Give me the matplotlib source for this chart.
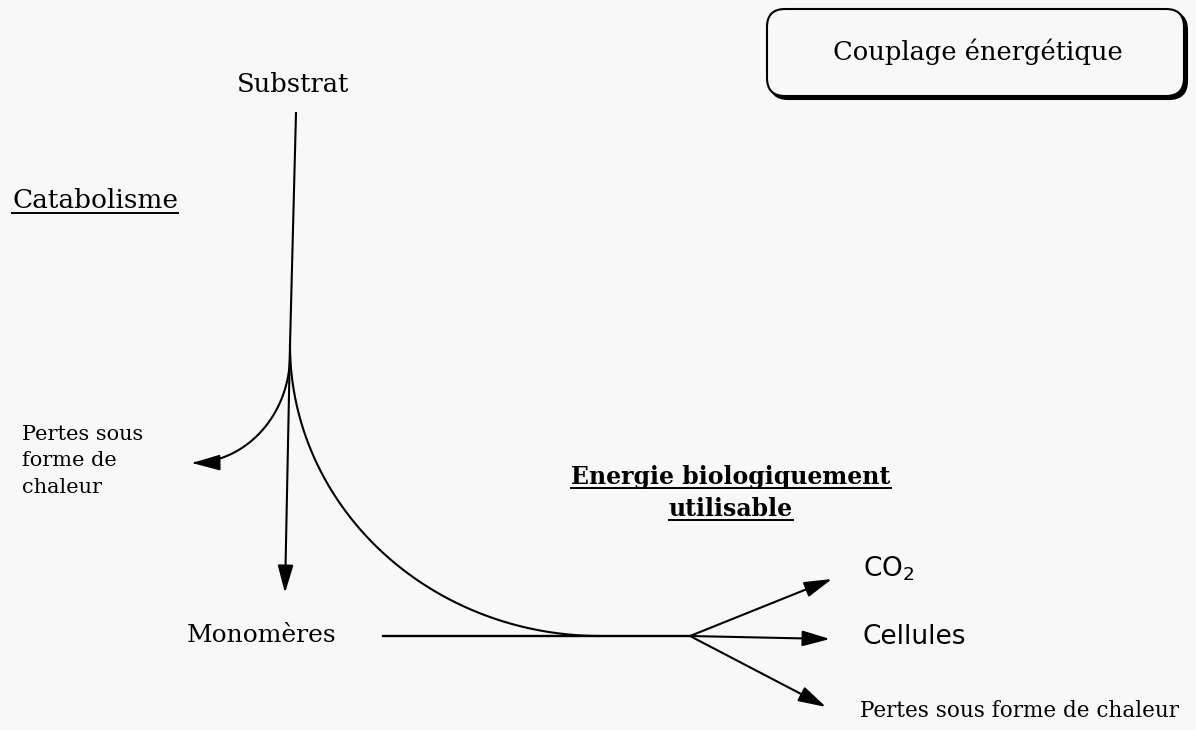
import numpy as np
import matplotlib
matplotlib.use("Agg")
import matplotlib.pyplot as plt
from matplotlib.patches import FancyArrowPatch, FancyBboxPatch
from matplotlib.path import Path

# positions des noeuds du schema (pixels, y vers le bas)
substrat_pos = (293, 85)
branch_top = (296, 113)
split_pt = (290, 345)
monomer_tip = (285, 593)
loss_tip = (192, 463)
big_curve_end = (600, 636)
line_start = (383, 636)
fork_pt = (690, 636)
fork_tips = [(832, 579), (830, 639), (826, 707)]

labels_right = ["CO$_2$", "Cellules", "Pertes sous forme de chaleur"]
labels_right_pos = [(863, 569), (863, 637), (860, 711)]
labels_right_size = [19, 19, 15.5]

titre = "Couplage énergétique"
box_xy = (767, 9, 417, 87)

BG = "#f8f8f8"
plt.rcParams["mathtext.fontset"] = "dejavusans"

fig = plt.figure(figsize=(11.96, 7.30), dpi=100, facecolor=BG)
ax = fig.add_axes([0, 0, 1, 1])
ax.set_xlim(0, 1196)
ax.set_ylim(730, 0)
ax.axis("off")
ax.set_facecolor(BG)

serif = "DejaVu Serif"


def quarter(p_start, p_end, n=60):
    # quart d'ellipse: depart vertical, arrivee horizontale
    cx, cy = p_end[0], p_start[1]
    a = p_start[0] - p_end[0]
    b = p_end[1] - p_start[1]
    t = np.linspace(0, np.pi / 2, n)
    return np.column_stack([cx + a * np.cos(t), cy + b * np.sin(t)])


def arrow_path(pts, **kw):
    codes = [Path.MOVETO] + [Path.LINETO] * (len(pts) - 1)
    p = FancyArrowPatch(path=Path(pts, codes),
                        arrowstyle="-|>,head_length=0.85,head_width=0.24",
                        mutation_scale=20, color="black", lw=1.5,
                        shrinkA=0, shrinkB=0, **kw)
    ax.add_patch(p)


# tige principale
ax.plot([branch_top[0], split_pt[0]], [branch_top[1], split_pt[1]], color="black", lw=1.5)
arrow_path(np.array([split_pt, monomer_tip], dtype=float))

# pertes de chaleur (gauche)
arrow_path(quarter((split_pt[0], split_pt[1] + 10), loss_tip))

# grande courbe vers la ligne horizontale
big = quarter(split_pt, big_curve_end)
ax.plot(big[:, 0], big[:, 1], color="black", lw=1.5)
ax.plot([line_start[0], fork_pt[0]], [line_start[1], fork_pt[1]], color="black", lw=1.7)

for tip in fork_tips:
    arrow_path(np.array([fork_pt, tip], dtype=float))

for lab, pos, fs in zip(labels_right, labels_right_pos, labels_right_size):
    fam = serif if fs < 17 else "DejaVu Sans"
    ax.text(pos[0], pos[1], lab, fontsize=fs, family=fam, ha="left", va="center")

# textes
ax.text(*substrat_pos, "Substrat", fontsize=18.5, family=serif, ha="center", va="center")
ax.text(262, 636, "Monomères", fontsize=18, family=serif, ha="center", va="center")
ax.text(22, 461, "Pertes sous\nforme de\nchaleur", fontsize=15, family=serif,
        ha="left", va="center", linespacing=1.5)

underlined = [
    ax.text(12, 201, "Catabolisme", fontsize=19, family=serif, ha="left", va="center"),
    ax.text(731, 477, "Energie biologiquement", fontsize=17, family=serif,
            ha="center", va="center", weight="bold"),
    ax.text(731, 509, "utilisable", fontsize=17, family=serif,
            ha="center", va="center", weight="bold"),
]

# encadre du titre avec ombre
bx, by, bw, bh = box_xy
shadow = FancyBboxPatch((bx + 3, by + 3), bw, bh, boxstyle="round,pad=0,rounding_size=18",
                        fc="black", ec="black", lw=1.5)
front = FancyBboxPatch((bx, by), bw, bh, boxstyle="round,pad=0,rounding_size=18",
                       fc=BG, ec="black", lw=1.5)
ax.add_patch(shadow)
ax.add_patch(front)
ax.text(bx + bw / 2 + 2, by + bh / 2 - 1, titre, fontsize=18.5, family=serif,
        ha="center", va="center")

# soulignements
fig.canvas.draw()
inv = ax.transData.inverted()
for t in underlined:
    bb = t.get_window_extent()
    (x0, y0), (x1, y1) = inv.transform([[bb.x0, bb.y0], [bb.x1, bb.y1]])
    ax.plot([x0, x1], [y0 - 1, y0 - 1], color="black", lw=1.4)

fig.savefig("out.png", dpi=100, facecolor=BG)
